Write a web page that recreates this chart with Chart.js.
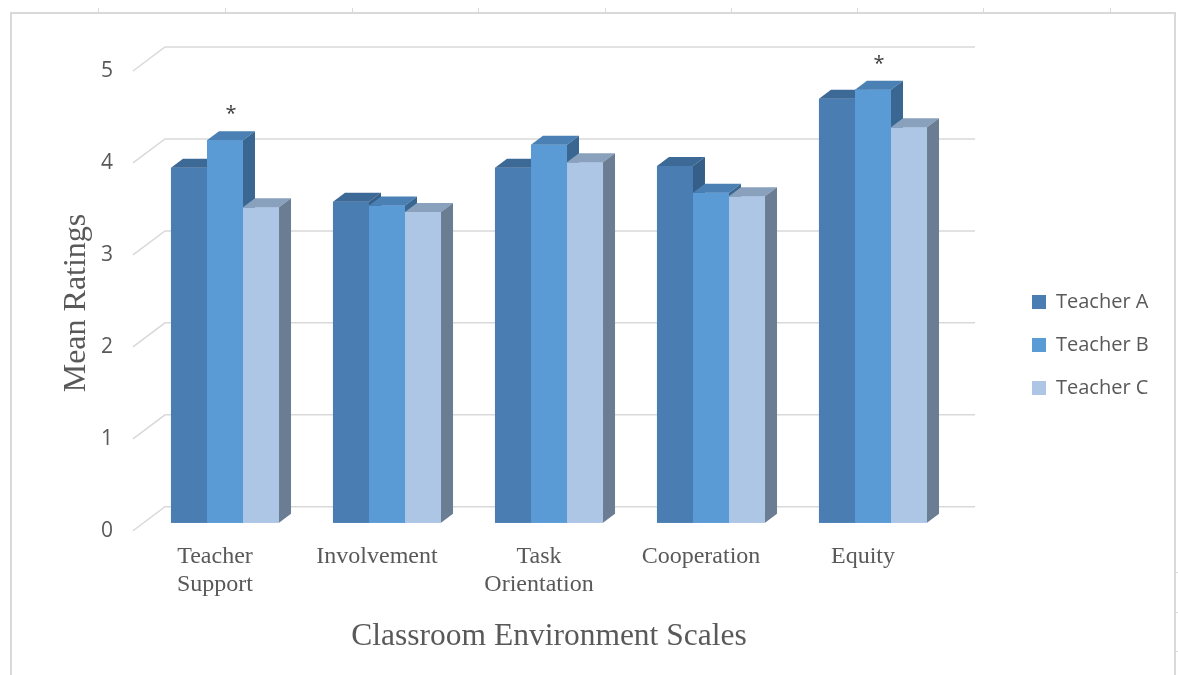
<!DOCTYPE html>
<html>
<head>
<meta charset="utf-8">
<title>Classroom Environment Scales</title>
<script src="https://cdn.jsdelivr.net/npm/chart.js@4.4.0/dist/chart.umd.min.js"></script>
<style>
    body { margin: 0; background: #ffffff; }
    canvas { display: block; }
</style>
</head>
<body>
<canvas id="scalesChart" width="1178" height="675"></canvas>
<script>
const categories = [['Teacher', 'Support'], 'Involvement', ['Task', 'Orientation'], 'Cooperation', 'Equity'];
const teacherA = [3.86, 3.49, 3.86, 3.88, 4.61];
const teacherB = [4.16, 3.45, 4.11, 3.59, 4.71];
const teacherC = [3.43, 3.38, 3.92, 3.55, 4.30];
const yTicks = [0, 1, 2, 3, 4, 5];
// categories where Teacher B gets a significance star
const starredB = [0, 4];

// oblique 3D offsets (pixels)
const depth = { dx: 12, dy: -9 };   // bar front face -> bar back face
const wall = { dx: 32, dy: -24 };   // floor front edge -> back wall
const edge = { dx: -11, dy: 8 };    // bar front face -> floor front edge

const shades = [
    { front: '#4a7eb3', top: '#3c6996', side: '#355f89' },
    { front: '#5b9bd5', top: '#4a80b3', side: '#3a6792' },
    { front: '#adc6e6', top: '#8aa1bd', side: '#6b7d93' }
];

function poly(ctx, pts) {
    ctx.beginPath();
    ctx.moveTo(pts[0][0], pts[0][1]);
    for (let i = 1; i < pts.length; i++) ctx.lineTo(pts[i][0], pts[i][1]);
    ctx.closePath();
    ctx.fill();
}

const box3d = {
    id: 'box3d',
    beforeDraw(chart) {
        const { ctx, width, height } = chart;
        ctx.save();
        ctx.fillStyle = '#ffffff';
        ctx.fillRect(0, 0, width, height);
        // sheet frame around the chart
        ctx.strokeStyle = '#d9d9d9';
        ctx.lineWidth = 2;
        ctx.strokeRect(11, 13, 1164, 700);
        ctx.lineWidth = 1;
        [98, 225, 352, 478, 605, 731, 857, 983, 1110].forEach(x => {
            ctx.beginPath(); ctx.moveTo(x + 0.5, 8); ctx.lineTo(x + 0.5, 12); ctx.stroke();
        });
        [572, 612, 651].forEach(y => {
            ctx.beginPath(); ctx.moveTo(1176, y + 0.5); ctx.lineTo(1178, y + 0.5); ctx.stroke();
        });
        ctx.restore();
    },
    beforeDatasetsDraw(chart) {
        // floor edge diagonals and back wall gridlines
        const { ctx, chartArea, scales: { y } } = chart;
        ctx.save();
        ctx.strokeStyle = '#d9d9d9';
        ctx.lineWidth = 1.5;
        y.ticks.forEach(t => {
            const py = y.getPixelForValue(t.value);
            const x0 = chartArea.left + edge.dx;
            const y0 = py + edge.dy;
            ctx.beginPath();
            ctx.moveTo(x0, y0);
            ctx.lineTo(x0 + wall.dx, y0 + wall.dy);
            ctx.lineTo(chartArea.right + edge.dx + wall.dx, y0 + wall.dy);
            ctx.stroke();
        });
        ctx.restore();
    },
    afterDatasetsDraw(chart) {
        // redraw each bar with top and side faces, left to right
        const { ctx } = chart;
        const metas = chart.data.datasets.map((_, i) => chart.getDatasetMeta(i));
        ctx.save();
        categories.forEach((_, i) => {
            metas.forEach((meta, d) => {
                const { x, y, base, width } = meta.data[i].getProps(['x', 'y', 'base', 'width'], true);
                const l = x - width / 2;
                const r = x + width / 2;
                const c = shades[d];
                ctx.fillStyle = c.front;
                ctx.fillRect(l, y, width, base - y);
                ctx.fillStyle = c.top;
                poly(ctx, [[l, y], [l + depth.dx, y + depth.dy], [r + depth.dx, y + depth.dy], [r, y]]);
                ctx.fillStyle = c.side;
                poly(ctx, [[r, y], [r + depth.dx, y + depth.dy], [r + depth.dx, base + depth.dy], [r, base]]);
            });
        });
        ctx.fillStyle = '#404040';
        ctx.font = '20px "Open Sans"';
        ctx.textAlign = 'center';
        ctx.textBaseline = 'alphabetic';
        starredB.forEach(i => {
            const { x, y } = metas[1].data[i].getProps(['x', 'y'], true);
            ctx.fillText('*', x + depth.dx / 2, y - 20);
        });
        ctx.restore();
    }
};

const serif = 'Liberation Serif';
const sans = 'Open Sans';

new Chart(document.getElementById('scalesChart'), {
    type: 'bar',
    data: {
        labels: categories,
        datasets: [
            { label: 'Teacher A', data: teacherA, backgroundColor: shades[0].front },
            { label: 'Teacher B', data: teacherB, backgroundColor: shades[1].front },
            { label: 'Teacher C', data: teacherC, backgroundColor: shades[2].front }
        ]
    },
    options: {
        responsive: false,
        animation: false,
        borderWidth: 0,
        datasets: {
            bar: { barPercentage: 1, categoryPercentage: 0.667, borderWidth: 0 }
        },
        layout: { padding: { left: 40, top: 63, right: 24, bottom: 48 } },
        plugins: {
            tooltip: { enabled: false },
            legend: {
                position: 'right',
                maxWidth: 145,
                labels: {
                    boxWidth: 14,
                    boxHeight: 14,
                    padding: 23,
                    color: '#595959',
                    font: { family: sans, size: 20 }
                }
            }
        },
        scales: {
            x: {
                afterFit: s => { s.height = 84; },
                grid: { display: false, drawTicks: false },
                border: { display: false },
                ticks: {
                    padding: 0,
                    labelOffset: -10,
                    maxRotation: 0,
                    autoSkip: false,
                    color: '#595959',
                    font: { family: serif, size: 24, lineHeight: 1.17 }
                },
                title: {
                    display: true,
                    text: 'Classroom Environment Scales',
                    color: '#595959',
                    font: { family: serif, size: 31.5 },
                    padding: { top: 0, bottom: -29 }
                }
            },
            y: {
                min: -0.22,
                max: 5,
                afterBuildTicks: s => { s.ticks = yTicks.map(v => ({ value: v })); },
                afterFit: s => { s.width = 104; },
                grid: { display: false, drawTicks: false },
                border: { display: false },
                ticks: {
                    padding: 31,
                    labelOffset: 8,
                    color: '#595959',
                    font: { family: sans, size: 21 }
                },
                title: {
                    display: true,
                    text: 'Mean Ratings',
                    color: '#595959',
                    font: { family: serif, size: 32 },
                    padding: { top: 17, bottom: 0 }
                }
            },
            // empty axis keeping the gap between the plot and the legend
            y1: {
                position: 'right',
                afterFit: s => { s.width = 55; },
                grid: { display: false, drawTicks: false },
                border: { display: false },
                ticks: { display: false }
            }
        }
    },
    plugins: [box3d]
});
</script>
</body>
</html>
